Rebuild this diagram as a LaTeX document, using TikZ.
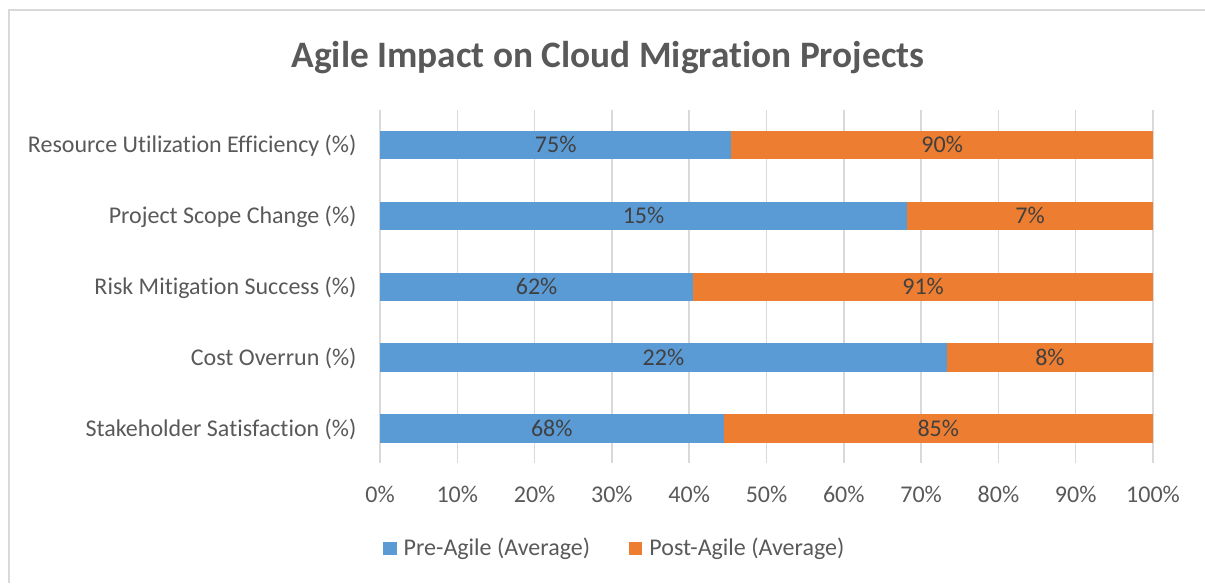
\documentclass[tikz,border=0pt]{standalone}
\usepackage{fontspec}
\setmainfont[Ligatures=NoCommon]{Carlito}
\usepackage{tikz}
\usetikzlibrary{positioning}

\definecolor{preblue}{HTML}{5B9BD5}
\definecolor{postorange}{HTML}{ED7D31}
\definecolor{axisgray}{HTML}{595959}
\definecolor{valgray}{HTML}{404040}
\definecolor{gridgray}{HTML}{D9D9D9}

\tikzset{
  catlabel/.style={anchor=base east, inner sep=0pt, text=axisgray},
  vallabel/.style={anchor=base, inner sep=0pt, text=valgray},
  ticklabel/.style={anchor=base, inner sep=0pt, text=axisgray},
  legbox/.style={minimum size=5pt, inner sep=0pt},
  legtext/.style={inner sep=0pt, text=axisgray},
}

\begin{document}
\begin{tikzpicture}[x=0.375pt, y=-0.375pt, font=\fontsize{9}{11}\selectfont]
  \useasboundingbox (0,0) rectangle (1205,583);
  % cornice del grafico (tagliata a destra e in basso)
  \draw[gridgray, line width=0.75pt] (8.5,583) -- (8.5,10) -- (1205,10);
  \node[anchor=base, inner sep=0pt, text=axisgray, font=\fontsize{14}{17}\selectfont\bfseries]
       (title) at (608,67) {Agile Impact on Cloud Migration Projects};
  % griglia verticale 0%..100%, 1% = 7.73 px
  \foreach \t in {0,...,10}{
    \draw[gridgray, line width=0.55pt] (380+77.3*\t,110) -- (380+77.3*\t,463);
    \pgfmathtruncatemacro\pc{10*\t}
    \node[ticklabel] (tick\t) at (380+77.3*\t,502) {\pc\%};
  }
  % barre impilate al 100%: pre + post
  \foreach \i/\name/\pre/\post in {1/Resource Utilization Efficiency (\%)/75/90,
                                   2/Project Scope Change (\%)/15/7,
                                   3/Risk Mitigation Success (\%)/62/91,
                                   4/Cost Overrun (\%)/22/8,
                                   5/Stakeholder Satisfaction (\%)/68/85}{
    \pgfmathsetmacro\yc{145+70.85*(\i-1)}
    \pgfmathsetmacro\xs{380+773*(\pre/(\pre+\post))}
    \fill[preblue] (380,\yc-14.2) rectangle (\xs,\yc+14.2);
    \fill[postorange] (\xs,\yc-14.2) rectangle (1153,\yc+14.2);
    \node[catlabel] (cat\i) at (357,\yc+7.7) {\name};
    \node[vallabel] (pre\i) at ({(380+\xs)/2},\yc+7.7) {\pre\%};
    \node[vallabel] (post\i) at ({(\xs+1153)/2},\yc+7.7) {\post\%};
  }
  % legenda
  \node[legbox, fill=preblue] (legpre) at (390,548.5) {};
  \node[legtext, right=2.25pt of legpre] (legpretxt) {Pre-Agile (Average)};
  \node[legbox, fill=postorange, right=14.25pt of legpretxt] (legpost) {};
  \node[legtext, right=2.25pt of legpost] (legposttxt) {Post-Agile (Average)};
\end{tikzpicture}
\end{document}
